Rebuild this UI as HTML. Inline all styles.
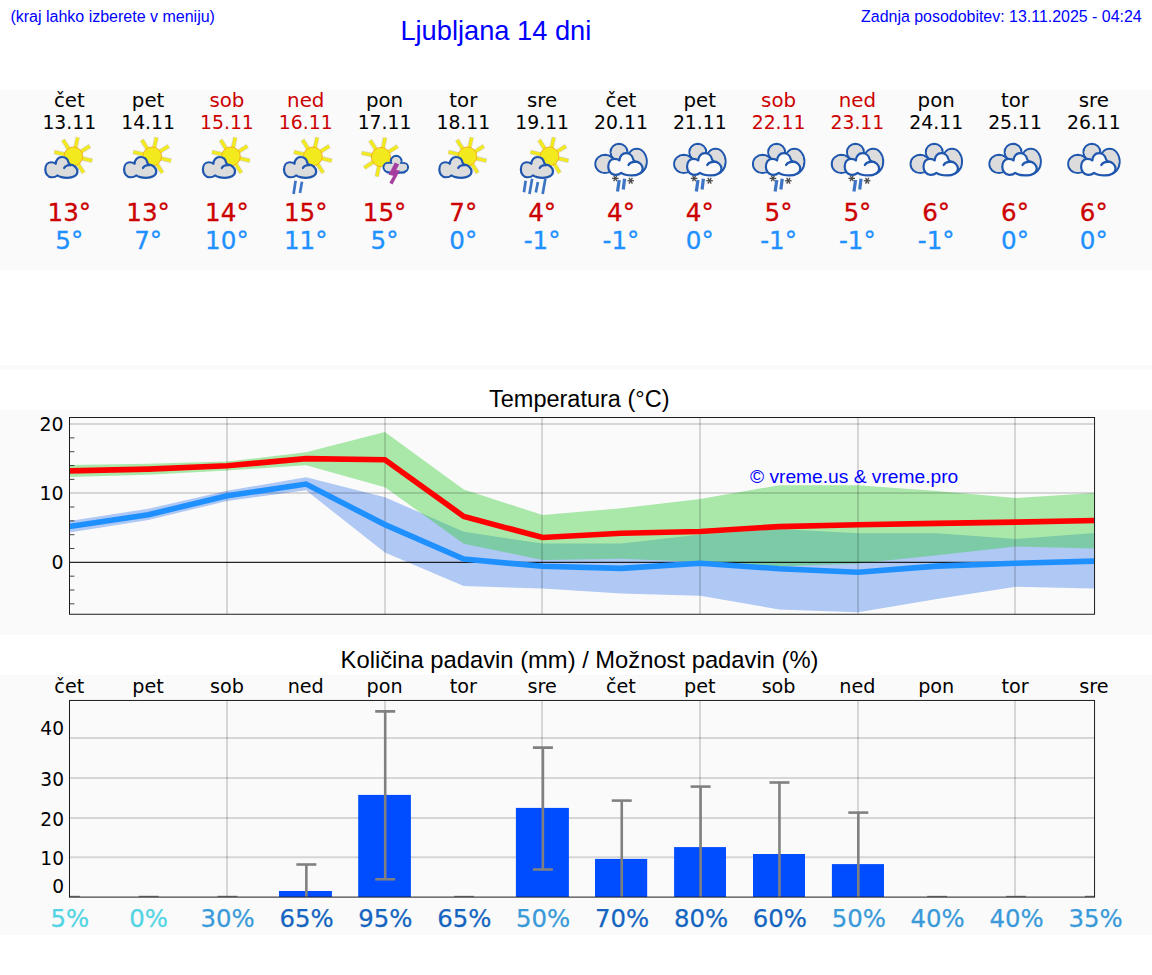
<!DOCTYPE html>
<html lang="sl"><head><meta charset="utf-8"><title>Ljubljana 14 dni</title>
<style>
html,body{margin:0;padding:0;background:#fff;}
body{width:1152px;height:975px;overflow:hidden;font-family:"Liberation Sans",sans-serif;}
svg{display:block;}
svg text{font-family:"Liberation Sans",sans-serif;}
svg text.dv{font-family:"DejaVu Sans","Liberation Sans",sans-serif;}
</style></head><body>
<svg width="1152" height="975" viewBox="0 0 1152 975">
<rect x="0" y="90" width="1152" height="180" fill="#fafafa"/>
<rect x="0" y="365" width="1152" height="5" fill="#fafafa"/>
<rect x="0" y="410" width="1152" height="225" fill="#fafafa"/>
<rect x="0" y="675" width="1152" height="260" fill="#fafafa"/>
<text x="10.4" y="21.6" font-size="16" text-anchor="start" fill="#0000ff">(kraj lahko izberete v meniju)</text>
<text x="1141.7" y="21.6" font-size="15.95" text-anchor="end" fill="#0000ff">Zadnja posodobitev: 13.11.2025 - 04:24</text>
<text x="400.4" y="39.8" font-size="27.25" text-anchor="start" fill="#0000ff">Ljubljana 14 dni</text>
<text class="dv" x="69.3" y="106.8" font-size="19.8" text-anchor="middle" fill="#000">čet</text>
<text class="dv" x="69.3" y="128.9" font-size="18.8" text-anchor="middle" fill="#000">13.11</text>
<text class="dv" x="69.3" y="221.3" font-size="24.6" text-anchor="middle" fill="#cc0000" stroke="#cc0000" stroke-width="0.3">13°</text>
<text class="dv" x="69.3" y="249" font-size="24.6" text-anchor="middle" fill="#1e90ff" stroke="#1e90ff" stroke-width="0.3">5°</text>
<text class="dv" x="148.11" y="106.8" font-size="19.8" text-anchor="middle" fill="#000">pet</text>
<text class="dv" x="148.11" y="128.9" font-size="18.8" text-anchor="middle" fill="#000">14.11</text>
<text class="dv" x="148.11" y="221.3" font-size="24.6" text-anchor="middle" fill="#cc0000" stroke="#cc0000" stroke-width="0.3">13°</text>
<text class="dv" x="148.11" y="249" font-size="24.6" text-anchor="middle" fill="#1e90ff" stroke="#1e90ff" stroke-width="0.3">7°</text>
<text class="dv" x="226.92" y="106.8" font-size="19.8" text-anchor="middle" fill="#cc0000">sob</text>
<text class="dv" x="226.92" y="128.9" font-size="18.8" text-anchor="middle" fill="#cc0000">15.11</text>
<text class="dv" x="226.92" y="221.3" font-size="24.6" text-anchor="middle" fill="#cc0000" stroke="#cc0000" stroke-width="0.3">14°</text>
<text class="dv" x="226.92" y="249" font-size="24.6" text-anchor="middle" fill="#1e90ff" stroke="#1e90ff" stroke-width="0.3">10°</text>
<text class="dv" x="305.73" y="106.8" font-size="19.8" text-anchor="middle" fill="#cc0000">ned</text>
<text class="dv" x="305.73" y="128.9" font-size="18.8" text-anchor="middle" fill="#cc0000">16.11</text>
<text class="dv" x="305.73" y="221.3" font-size="24.6" text-anchor="middle" fill="#cc0000" stroke="#cc0000" stroke-width="0.3">15°</text>
<text class="dv" x="305.73" y="249" font-size="24.6" text-anchor="middle" fill="#1e90ff" stroke="#1e90ff" stroke-width="0.3">11°</text>
<text class="dv" x="384.54" y="106.8" font-size="19.8" text-anchor="middle" fill="#000">pon</text>
<text class="dv" x="384.54" y="128.9" font-size="18.8" text-anchor="middle" fill="#000">17.11</text>
<text class="dv" x="384.54" y="221.3" font-size="24.6" text-anchor="middle" fill="#cc0000" stroke="#cc0000" stroke-width="0.3">15°</text>
<text class="dv" x="384.54" y="249" font-size="24.6" text-anchor="middle" fill="#1e90ff" stroke="#1e90ff" stroke-width="0.3">5°</text>
<text class="dv" x="463.35" y="106.8" font-size="19.8" text-anchor="middle" fill="#000">tor</text>
<text class="dv" x="463.35" y="128.9" font-size="18.8" text-anchor="middle" fill="#000">18.11</text>
<text class="dv" x="463.35" y="221.3" font-size="24.6" text-anchor="middle" fill="#cc0000" stroke="#cc0000" stroke-width="0.3">7°</text>
<text class="dv" x="463.35" y="249" font-size="24.6" text-anchor="middle" fill="#1e90ff" stroke="#1e90ff" stroke-width="0.3">0°</text>
<text class="dv" x="542.16" y="106.8" font-size="19.8" text-anchor="middle" fill="#000">sre</text>
<text class="dv" x="542.16" y="128.9" font-size="18.8" text-anchor="middle" fill="#000">19.11</text>
<text class="dv" x="542.16" y="221.3" font-size="24.6" text-anchor="middle" fill="#cc0000" stroke="#cc0000" stroke-width="0.3">4°</text>
<text class="dv" x="542.16" y="249" font-size="24.6" text-anchor="middle" fill="#1e90ff" stroke="#1e90ff" stroke-width="0.3">-1°</text>
<text class="dv" x="620.97" y="106.8" font-size="19.8" text-anchor="middle" fill="#000">čet</text>
<text class="dv" x="620.97" y="128.9" font-size="18.8" text-anchor="middle" fill="#000">20.11</text>
<text class="dv" x="620.97" y="221.3" font-size="24.6" text-anchor="middle" fill="#cc0000" stroke="#cc0000" stroke-width="0.3">4°</text>
<text class="dv" x="620.97" y="249" font-size="24.6" text-anchor="middle" fill="#1e90ff" stroke="#1e90ff" stroke-width="0.3">-1°</text>
<text class="dv" x="699.78" y="106.8" font-size="19.8" text-anchor="middle" fill="#000">pet</text>
<text class="dv" x="699.78" y="128.9" font-size="18.8" text-anchor="middle" fill="#000">21.11</text>
<text class="dv" x="699.78" y="221.3" font-size="24.6" text-anchor="middle" fill="#cc0000" stroke="#cc0000" stroke-width="0.3">4°</text>
<text class="dv" x="699.78" y="249" font-size="24.6" text-anchor="middle" fill="#1e90ff" stroke="#1e90ff" stroke-width="0.3">0°</text>
<text class="dv" x="778.59" y="106.8" font-size="19.8" text-anchor="middle" fill="#cc0000">sob</text>
<text class="dv" x="778.59" y="128.9" font-size="18.8" text-anchor="middle" fill="#cc0000">22.11</text>
<text class="dv" x="778.59" y="221.3" font-size="24.6" text-anchor="middle" fill="#cc0000" stroke="#cc0000" stroke-width="0.3">5°</text>
<text class="dv" x="778.59" y="249" font-size="24.6" text-anchor="middle" fill="#1e90ff" stroke="#1e90ff" stroke-width="0.3">-1°</text>
<text class="dv" x="857.4" y="106.8" font-size="19.8" text-anchor="middle" fill="#cc0000">ned</text>
<text class="dv" x="857.4" y="128.9" font-size="18.8" text-anchor="middle" fill="#cc0000">23.11</text>
<text class="dv" x="857.4" y="221.3" font-size="24.6" text-anchor="middle" fill="#cc0000" stroke="#cc0000" stroke-width="0.3">5°</text>
<text class="dv" x="857.4" y="249" font-size="24.6" text-anchor="middle" fill="#1e90ff" stroke="#1e90ff" stroke-width="0.3">-1°</text>
<text class="dv" x="936.21" y="106.8" font-size="19.8" text-anchor="middle" fill="#000">pon</text>
<text class="dv" x="936.21" y="128.9" font-size="18.8" text-anchor="middle" fill="#000">24.11</text>
<text class="dv" x="936.21" y="221.3" font-size="24.6" text-anchor="middle" fill="#cc0000" stroke="#cc0000" stroke-width="0.3">6°</text>
<text class="dv" x="936.21" y="249" font-size="24.6" text-anchor="middle" fill="#1e90ff" stroke="#1e90ff" stroke-width="0.3">-1°</text>
<text class="dv" x="1015.02" y="106.8" font-size="19.8" text-anchor="middle" fill="#000">tor</text>
<text class="dv" x="1015.02" y="128.9" font-size="18.8" text-anchor="middle" fill="#000">25.11</text>
<text class="dv" x="1015.02" y="221.3" font-size="24.6" text-anchor="middle" fill="#cc0000" stroke="#cc0000" stroke-width="0.3">6°</text>
<text class="dv" x="1015.02" y="249" font-size="24.6" text-anchor="middle" fill="#1e90ff" stroke="#1e90ff" stroke-width="0.3">0°</text>
<text class="dv" x="1093.83" y="106.8" font-size="19.8" text-anchor="middle" fill="#000">sre</text>
<text class="dv" x="1093.83" y="128.9" font-size="18.8" text-anchor="middle" fill="#000">26.11</text>
<text class="dv" x="1093.83" y="221.3" font-size="24.6" text-anchor="middle" fill="#cc0000" stroke="#cc0000" stroke-width="0.3">6°</text>
<text class="dv" x="1093.83" y="249" font-size="24.6" text-anchor="middle" fill="#1e90ff" stroke="#1e90ff" stroke-width="0.3">0°</text>
<g><line x1="75.24" y1="148.12" x2="77.74" y2="137.3" stroke="#b9b48a" stroke-opacity="0.55" stroke-width="4.5"/><line x1="75.24" y1="148.12" x2="77.67" y2="137.59" stroke="#f2ea1c" stroke-width="3.2"/><line x1="80.54" y1="151.9" x2="89.95" y2="146.01" stroke="#b9b48a" stroke-opacity="0.55" stroke-width="4.5"/><line x1="80.54" y1="151.9" x2="89.7" y2="146.17" stroke="#f2ea1c" stroke-width="3.2"/><line x1="81.61" y1="158.31" x2="92.43" y2="160.81" stroke="#b9b48a" stroke-opacity="0.55" stroke-width="4.5"/><line x1="81.61" y1="158.31" x2="92.14" y2="160.74" stroke="#f2ea1c" stroke-width="3.2"/><line x1="77.83" y1="163.61" x2="83.72" y2="173.02" stroke="#b9b48a" stroke-opacity="0.55" stroke-width="4.5"/><line x1="77.83" y1="163.61" x2="83.56" y2="172.77" stroke="#f2ea1c" stroke-width="3.2"/><line x1="65.05" y1="154.49" x2="54.23" y2="151.99" stroke="#b9b48a" stroke-opacity="0.55" stroke-width="4.5"/><line x1="65.05" y1="154.49" x2="54.52" y2="152.06" stroke="#f2ea1c" stroke-width="3.2"/><line x1="68.83" y1="149.19" x2="62.94" y2="139.78" stroke="#b9b48a" stroke-opacity="0.55" stroke-width="4.5"/><line x1="68.83" y1="149.19" x2="63.1" y2="140.03" stroke="#f2ea1c" stroke-width="3.2"/><circle cx="73.33" cy="156.4" r="9.4" fill="#f2ea1c" stroke="#f5a81e" stroke-width="0.9"/><path d="M55.79,163.74C55.79,159.78 58.49,157.02 61.82,157.02C65.15,157.02 67.85,159.26 68.48,162.42C68.71,163.57 69.57,164.26 70.43,164.6C74.17,165 77.44,167.87 77.44,171.61C77.44,175.63 72.73,177.81 67.28,177.81C62.97,177.81 59.52,177.06 57.34,175.46C55.79,176.89 53.78,177.35 51.59,177.24C47.75,177.06 45.28,173.62 45.28,169.6C45.28,165.58 47.46,162.25 50.79,162.25C52.92,162.25 54.75,162.65 55.79,163.74Z" fill="#dcdcdc" stroke="#1f56ae" stroke-width="2.2" stroke-linejoin="round"/><path d="M64.12,168.05C65.26,165.86 68.14,164.83 71.01,165.18" fill="none" stroke="#1f56ae" stroke-width="2.2" stroke-linecap="round"/></g>
<g><line x1="154.05" y1="148.12" x2="156.55" y2="137.3" stroke="#b9b48a" stroke-opacity="0.55" stroke-width="4.5"/><line x1="154.05" y1="148.12" x2="156.48" y2="137.59" stroke="#f2ea1c" stroke-width="3.2"/><line x1="159.35" y1="151.9" x2="168.76" y2="146.01" stroke="#b9b48a" stroke-opacity="0.55" stroke-width="4.5"/><line x1="159.35" y1="151.9" x2="168.51" y2="146.17" stroke="#f2ea1c" stroke-width="3.2"/><line x1="160.42" y1="158.31" x2="171.24" y2="160.81" stroke="#b9b48a" stroke-opacity="0.55" stroke-width="4.5"/><line x1="160.42" y1="158.31" x2="170.95" y2="160.74" stroke="#f2ea1c" stroke-width="3.2"/><line x1="156.64" y1="163.61" x2="162.53" y2="173.02" stroke="#b9b48a" stroke-opacity="0.55" stroke-width="4.5"/><line x1="156.64" y1="163.61" x2="162.37" y2="172.77" stroke="#f2ea1c" stroke-width="3.2"/><line x1="143.86" y1="154.49" x2="133.04" y2="151.99" stroke="#b9b48a" stroke-opacity="0.55" stroke-width="4.5"/><line x1="143.86" y1="154.49" x2="133.33" y2="152.06" stroke="#f2ea1c" stroke-width="3.2"/><line x1="147.64" y1="149.19" x2="141.75" y2="139.78" stroke="#b9b48a" stroke-opacity="0.55" stroke-width="4.5"/><line x1="147.64" y1="149.19" x2="141.91" y2="140.03" stroke="#f2ea1c" stroke-width="3.2"/><circle cx="152.14" cy="156.4" r="9.4" fill="#f2ea1c" stroke="#f5a81e" stroke-width="0.9"/><path d="M134.6,163.74C134.6,159.78 137.3,157.02 140.63,157.02C143.96,157.02 146.66,159.26 147.29,162.42C147.52,163.57 148.38,164.26 149.24,164.6C152.98,165 156.25,167.87 156.25,171.61C156.25,175.63 151.54,177.81 146.09,177.81C141.78,177.81 138.33,177.06 136.15,175.46C134.6,176.89 132.59,177.35 130.4,177.24C126.56,177.06 124.09,173.62 124.09,169.6C124.09,165.58 126.27,162.25 129.6,162.25C131.73,162.25 133.56,162.65 134.6,163.74Z" fill="#dcdcdc" stroke="#1f56ae" stroke-width="2.2" stroke-linejoin="round"/><path d="M142.93,168.05C144.07,165.86 146.95,164.83 149.82,165.18" fill="none" stroke="#1f56ae" stroke-width="2.2" stroke-linecap="round"/></g>
<g><line x1="232.86" y1="148.12" x2="235.36" y2="137.3" stroke="#b9b48a" stroke-opacity="0.55" stroke-width="4.5"/><line x1="232.86" y1="148.12" x2="235.29" y2="137.59" stroke="#f2ea1c" stroke-width="3.2"/><line x1="238.16" y1="151.9" x2="247.57" y2="146.01" stroke="#b9b48a" stroke-opacity="0.55" stroke-width="4.5"/><line x1="238.16" y1="151.9" x2="247.32" y2="146.17" stroke="#f2ea1c" stroke-width="3.2"/><line x1="239.23" y1="158.31" x2="250.05" y2="160.81" stroke="#b9b48a" stroke-opacity="0.55" stroke-width="4.5"/><line x1="239.23" y1="158.31" x2="249.76" y2="160.74" stroke="#f2ea1c" stroke-width="3.2"/><line x1="235.45" y1="163.61" x2="241.34" y2="173.02" stroke="#b9b48a" stroke-opacity="0.55" stroke-width="4.5"/><line x1="235.45" y1="163.61" x2="241.18" y2="172.77" stroke="#f2ea1c" stroke-width="3.2"/><line x1="222.67" y1="154.49" x2="211.85" y2="151.99" stroke="#b9b48a" stroke-opacity="0.55" stroke-width="4.5"/><line x1="222.67" y1="154.49" x2="212.14" y2="152.06" stroke="#f2ea1c" stroke-width="3.2"/><line x1="226.45" y1="149.19" x2="220.56" y2="139.78" stroke="#b9b48a" stroke-opacity="0.55" stroke-width="4.5"/><line x1="226.45" y1="149.19" x2="220.72" y2="140.03" stroke="#f2ea1c" stroke-width="3.2"/><circle cx="230.95" cy="156.4" r="9.4" fill="#f2ea1c" stroke="#f5a81e" stroke-width="0.9"/><path d="M213.41,163.74C213.41,159.78 216.11,157.02 219.44,157.02C222.77,157.02 225.47,159.26 226.1,162.42C226.33,163.57 227.19,164.26 228.05,164.6C231.79,165 235.06,167.87 235.06,171.61C235.06,175.63 230.35,177.81 224.9,177.81C220.59,177.81 217.14,177.06 214.96,175.46C213.41,176.89 211.4,177.35 209.21,177.24C205.37,177.06 202.9,173.62 202.9,169.6C202.9,165.58 205.08,162.25 208.41,162.25C210.54,162.25 212.37,162.65 213.41,163.74Z" fill="#dcdcdc" stroke="#1f56ae" stroke-width="2.2" stroke-linejoin="round"/><path d="M221.74,168.05C222.88,165.86 225.76,164.83 228.63,165.18" fill="none" stroke="#1f56ae" stroke-width="2.2" stroke-linecap="round"/></g>
<g><line x1="295.58" y1="180.7" x2="293.58" y2="194" stroke="#3d74c4" stroke-width="2.7"/><line x1="301.98" y1="181.8" x2="299.98" y2="192.9" stroke="#3d74c4" stroke-width="2.7"/><line x1="314.77" y1="148.12" x2="317.27" y2="137.3" stroke="#b9b48a" stroke-opacity="0.55" stroke-width="4.5"/><line x1="314.77" y1="148.12" x2="317.2" y2="137.59" stroke="#f2ea1c" stroke-width="3.2"/><line x1="320.07" y1="151.9" x2="329.48" y2="146.01" stroke="#b9b48a" stroke-opacity="0.55" stroke-width="4.5"/><line x1="320.07" y1="151.9" x2="329.23" y2="146.17" stroke="#f2ea1c" stroke-width="3.2"/><line x1="321.14" y1="158.31" x2="331.96" y2="160.81" stroke="#b9b48a" stroke-opacity="0.55" stroke-width="4.5"/><line x1="321.14" y1="158.31" x2="331.67" y2="160.74" stroke="#f2ea1c" stroke-width="3.2"/><line x1="317.36" y1="163.61" x2="323.25" y2="173.02" stroke="#b9b48a" stroke-opacity="0.55" stroke-width="4.5"/><line x1="317.36" y1="163.61" x2="323.09" y2="172.77" stroke="#f2ea1c" stroke-width="3.2"/><line x1="304.58" y1="154.49" x2="293.76" y2="151.99" stroke="#b9b48a" stroke-opacity="0.55" stroke-width="4.5"/><line x1="304.58" y1="154.49" x2="294.05" y2="152.06" stroke="#f2ea1c" stroke-width="3.2"/><line x1="308.36" y1="149.19" x2="302.47" y2="139.78" stroke="#b9b48a" stroke-opacity="0.55" stroke-width="4.5"/><line x1="308.36" y1="149.19" x2="302.63" y2="140.03" stroke="#f2ea1c" stroke-width="3.2"/><circle cx="312.86" cy="156.4" r="9.4" fill="#f2ea1c" stroke="#f5a81e" stroke-width="0.9"/><path d="M294.52,163.74C294.52,159.78 297.22,157.02 300.55,157.02C303.88,157.02 306.58,159.26 307.21,162.42C307.44,163.57 308.3,164.26 309.16,164.6C312.9,165 316.17,167.87 316.17,171.61C316.17,175.63 311.46,177.81 306.01,177.81C301.7,177.81 298.25,177.06 296.07,175.46C294.52,176.89 292.51,177.35 290.32,177.24C286.48,177.06 284.01,173.62 284.01,169.6C284.01,165.58 286.19,162.25 289.52,162.25C291.65,162.25 293.48,162.65 294.52,163.74Z" fill="#dcdcdc" stroke="#1f56ae" stroke-width="2.2" stroke-linejoin="round"/><path d="M302.85,168.05C303.99,165.86 306.87,164.83 309.74,165.18" fill="none" stroke="#1f56ae" stroke-width="2.2" stroke-linecap="round"/></g>
<g><line x1="382.72" y1="148.74" x2="385.11" y2="137.49" stroke="#b9b48a" stroke-opacity="0.55" stroke-width="4.5"/><line x1="382.72" y1="148.74" x2="385.05" y2="137.78" stroke="#f2ea1c" stroke-width="3.2"/><line x1="388.08" y1="152.42" x2="397.72" y2="146.16" stroke="#b9b48a" stroke-opacity="0.55" stroke-width="4.5"/><line x1="388.08" y1="152.42" x2="397.47" y2="146.32" stroke="#f2ea1c" stroke-width="3.2"/><line x1="379.18" y1="165.36" x2="376.79" y2="176.61" stroke="#b9b48a" stroke-opacity="0.55" stroke-width="4.5"/><line x1="379.18" y1="165.36" x2="376.85" y2="176.32" stroke="#f2ea1c" stroke-width="3.2"/><line x1="373.82" y1="161.68" x2="364.18" y2="167.94" stroke="#b9b48a" stroke-opacity="0.55" stroke-width="4.5"/><line x1="373.82" y1="161.68" x2="364.43" y2="167.78" stroke="#f2ea1c" stroke-width="3.2"/><line x1="372.64" y1="155.28" x2="361.39" y2="152.89" stroke="#b9b48a" stroke-opacity="0.55" stroke-width="4.5"/><line x1="372.64" y1="155.28" x2="361.68" y2="152.95" stroke="#f2ea1c" stroke-width="3.2"/><line x1="376.32" y1="149.92" x2="370.06" y2="140.28" stroke="#b9b48a" stroke-opacity="0.55" stroke-width="4.5"/><line x1="376.32" y1="149.92" x2="370.22" y2="140.53" stroke="#f2ea1c" stroke-width="3.2"/><circle cx="380.95" cy="157.05" r="9.6" fill="#f2ea1c" stroke="#f5a81e" stroke-width="0.9"/><circle cx="388.06" cy="167.34" r="4.47" fill="#dcdcdc" stroke="#1f56ae" stroke-width="2.2"/><circle cx="396.19" cy="161.25" r="5.28" fill="#dcdcdc" stroke="#1f56ae" stroke-width="2.2"/><circle cx="403.63" cy="167.34" r="4.33" fill="#dcdcdc" stroke="#1f56ae" stroke-width="2.2"/><rect x="387.72" y="163.82" width="16.25" height="8.53" fill="#dcdcdc"/><path d="M387.39,172.42 Q395.85,173.22 404.31,172.42" fill="none" stroke="#1f56ae" stroke-width="2.2" stroke-linecap="round"/><circle cx="388.06" cy="167.34" r="3.47" fill="#dcdcdc"/><circle cx="396.19" cy="161.25" r="4.28" fill="#dcdcdc"/><circle cx="403.63" cy="167.34" r="3.33" fill="#dcdcdc"/><polygon points="394.83,162.6 399.23,164.5 396.19,170.05 399.91,170.46 392.46,184.47 389.42,182.64 393.28,175.87 388.6,174.79" fill="#a63ea0"/></g>
<g><line x1="469.29" y1="148.12" x2="471.79" y2="137.3" stroke="#b9b48a" stroke-opacity="0.55" stroke-width="4.5"/><line x1="469.29" y1="148.12" x2="471.72" y2="137.59" stroke="#f2ea1c" stroke-width="3.2"/><line x1="474.59" y1="151.9" x2="484" y2="146.01" stroke="#b9b48a" stroke-opacity="0.55" stroke-width="4.5"/><line x1="474.59" y1="151.9" x2="483.75" y2="146.17" stroke="#f2ea1c" stroke-width="3.2"/><line x1="475.66" y1="158.31" x2="486.48" y2="160.81" stroke="#b9b48a" stroke-opacity="0.55" stroke-width="4.5"/><line x1="475.66" y1="158.31" x2="486.19" y2="160.74" stroke="#f2ea1c" stroke-width="3.2"/><line x1="471.88" y1="163.61" x2="477.77" y2="173.02" stroke="#b9b48a" stroke-opacity="0.55" stroke-width="4.5"/><line x1="471.88" y1="163.61" x2="477.61" y2="172.77" stroke="#f2ea1c" stroke-width="3.2"/><line x1="459.1" y1="154.49" x2="448.28" y2="151.99" stroke="#b9b48a" stroke-opacity="0.55" stroke-width="4.5"/><line x1="459.1" y1="154.49" x2="448.57" y2="152.06" stroke="#f2ea1c" stroke-width="3.2"/><line x1="462.88" y1="149.19" x2="456.99" y2="139.78" stroke="#b9b48a" stroke-opacity="0.55" stroke-width="4.5"/><line x1="462.88" y1="149.19" x2="457.15" y2="140.03" stroke="#f2ea1c" stroke-width="3.2"/><circle cx="467.38" cy="156.4" r="9.4" fill="#f2ea1c" stroke="#f5a81e" stroke-width="0.9"/><path d="M449.84,163.74C449.84,159.78 452.54,157.02 455.87,157.02C459.2,157.02 461.9,159.26 462.53,162.42C462.76,163.57 463.62,164.26 464.48,164.6C468.22,165 471.49,167.87 471.49,171.61C471.49,175.63 466.78,177.81 461.33,177.81C457.02,177.81 453.57,177.06 451.39,175.46C449.84,176.89 447.83,177.35 445.64,177.24C441.8,177.06 439.33,173.62 439.33,169.6C439.33,165.58 441.51,162.25 444.84,162.25C446.97,162.25 448.8,162.65 449.84,163.74Z" fill="#dcdcdc" stroke="#1f56ae" stroke-width="2.2" stroke-linejoin="round"/><path d="M458.17,168.05C459.31,165.86 462.19,164.83 465.06,165.18" fill="none" stroke="#1f56ae" stroke-width="2.2" stroke-linecap="round"/></g>
<g><line x1="525.66" y1="180.7" x2="523.96" y2="192.3" stroke="#3d74c4" stroke-width="2.7"/><line x1="532.16" y1="178.7" x2="529.46" y2="194" stroke="#3d74c4" stroke-width="2.7"/><line x1="537.86" y1="182.1" x2="535.86" y2="192.6" stroke="#3d74c4" stroke-width="2.7"/><line x1="545.36" y1="178.7" x2="542.66" y2="194" stroke="#3d74c4" stroke-width="2.7"/><line x1="551.4" y1="148.12" x2="553.9" y2="137.3" stroke="#b9b48a" stroke-opacity="0.55" stroke-width="4.5"/><line x1="551.4" y1="148.12" x2="553.83" y2="137.59" stroke="#f2ea1c" stroke-width="3.2"/><line x1="556.7" y1="151.9" x2="566.11" y2="146.01" stroke="#b9b48a" stroke-opacity="0.55" stroke-width="4.5"/><line x1="556.7" y1="151.9" x2="565.86" y2="146.17" stroke="#f2ea1c" stroke-width="3.2"/><line x1="557.77" y1="158.31" x2="568.59" y2="160.81" stroke="#b9b48a" stroke-opacity="0.55" stroke-width="4.5"/><line x1="557.77" y1="158.31" x2="568.3" y2="160.74" stroke="#f2ea1c" stroke-width="3.2"/><line x1="553.99" y1="163.61" x2="559.88" y2="173.02" stroke="#b9b48a" stroke-opacity="0.55" stroke-width="4.5"/><line x1="553.99" y1="163.61" x2="559.72" y2="172.77" stroke="#f2ea1c" stroke-width="3.2"/><line x1="541.21" y1="154.49" x2="530.39" y2="151.99" stroke="#b9b48a" stroke-opacity="0.55" stroke-width="4.5"/><line x1="541.21" y1="154.49" x2="530.68" y2="152.06" stroke="#f2ea1c" stroke-width="3.2"/><line x1="544.99" y1="149.19" x2="539.1" y2="139.78" stroke="#b9b48a" stroke-opacity="0.55" stroke-width="4.5"/><line x1="544.99" y1="149.19" x2="539.26" y2="140.03" stroke="#f2ea1c" stroke-width="3.2"/><circle cx="549.49" cy="156.4" r="9.4" fill="#f2ea1c" stroke="#f5a81e" stroke-width="0.9"/><path d="M531.35,163.74C531.35,159.78 534.05,157.02 537.38,157.02C540.71,157.02 543.41,159.26 544.04,162.42C544.27,163.57 545.13,164.26 545.99,164.6C549.73,165 553,167.87 553,171.61C553,175.63 548.29,177.81 542.84,177.81C538.53,177.81 535.08,177.06 532.9,175.46C531.35,176.89 529.34,177.35 527.15,177.24C523.31,177.06 520.84,173.62 520.84,169.6C520.84,165.58 523.02,162.25 526.35,162.25C528.48,162.25 530.31,162.65 531.35,163.74Z" fill="#dcdcdc" stroke="#1f56ae" stroke-width="2.2" stroke-linejoin="round"/><path d="M539.68,168.05C540.82,165.86 543.7,164.83 546.57,165.18" fill="none" stroke="#1f56ae" stroke-width="2.2" stroke-linecap="round"/></g>
<g><ellipse cx="604.98" cy="163.96" rx="9.61" ry="9.07" fill="#dcdcdc" stroke="#1f56ae" stroke-width="2.1"/><ellipse cx="619" cy="152.18" rx="8.4" ry="8.26" fill="#dcdcdc" stroke="#1f56ae" stroke-width="2.1"/><ellipse cx="636.74" cy="161.45" rx="10.02" ry="12.59" fill="#dcdcdc" stroke="#1f56ae" stroke-width="2.1"/><ellipse cx="604.98" cy="163.96" rx="8.61" ry="8.07" fill="#dcdcdc"/><ellipse cx="619" cy="152.18" rx="7.4" ry="7.26" fill="#dcdcdc"/><ellipse cx="636.74" cy="161.45" rx="9.02" ry="11.59" fill="#dcdcdc"/><line x1="612" y1="178.4" x2="618.6" y2="178.4" stroke="#4a4a4a" stroke-width="1.3"/><line x1="613.65" y1="175.54" x2="616.95" y2="181.26" stroke="#4a4a4a" stroke-width="1.3"/><line x1="616.95" y1="175.54" x2="613.65" y2="181.26" stroke="#4a4a4a" stroke-width="1.3"/><line x1="627.42" y1="180.75" x2="634.02" y2="180.75" stroke="#4a4a4a" stroke-width="1.3"/><line x1="629.07" y1="177.89" x2="632.37" y2="183.61" stroke="#4a4a4a" stroke-width="1.3"/><line x1="632.37" y1="177.89" x2="629.07" y2="183.61" stroke="#4a4a4a" stroke-width="1.3"/><line x1="619.2" y1="180.07" x2="617.51" y2="191.58" stroke="#3d74c4" stroke-width="3.2"/><line x1="624.62" y1="178.72" x2="623.27" y2="189.55" stroke="#3d74c4" stroke-width="3.2"/><path d="M619.51,160.37C619.51,156.13 622.4,153.18 625.96,153.18C629.53,153.18 632.42,155.58 633.09,158.96C633.34,160.19 634.26,160.93 635.18,161.3C639.18,161.73 642.68,164.8 642.68,168.79C642.68,173.1 637.64,175.43 631.8,175.43C627.19,175.43 623.51,174.63 621.17,172.91C619.51,174.45 617.36,174.94 615.03,174.82C610.91,174.63 608.26,170.94 608.26,166.64C608.26,162.34 610.6,158.78 614.16,158.78C616.44,158.78 618.41,159.21 619.51,160.37Z" fill="#fafafa" stroke="#1f56ae" stroke-width="2.2" stroke-linejoin="round"/><path d="M628.42,164.98C629.65,162.65 632.73,161.54 635.8,161.91" fill="none" stroke="#1f56ae" stroke-width="2.2" stroke-linecap="round"/></g>
<g><ellipse cx="683.79" cy="163.96" rx="9.61" ry="9.07" fill="#dcdcdc" stroke="#1f56ae" stroke-width="2.1"/><ellipse cx="697.81" cy="152.18" rx="8.4" ry="8.26" fill="#dcdcdc" stroke="#1f56ae" stroke-width="2.1"/><ellipse cx="715.55" cy="161.45" rx="10.02" ry="12.59" fill="#dcdcdc" stroke="#1f56ae" stroke-width="2.1"/><ellipse cx="683.79" cy="163.96" rx="8.61" ry="8.07" fill="#dcdcdc"/><ellipse cx="697.81" cy="152.18" rx="7.4" ry="7.26" fill="#dcdcdc"/><ellipse cx="715.55" cy="161.45" rx="9.02" ry="11.59" fill="#dcdcdc"/><line x1="690.81" y1="178.4" x2="697.41" y2="178.4" stroke="#4a4a4a" stroke-width="1.3"/><line x1="692.46" y1="175.54" x2="695.76" y2="181.26" stroke="#4a4a4a" stroke-width="1.3"/><line x1="695.76" y1="175.54" x2="692.46" y2="181.26" stroke="#4a4a4a" stroke-width="1.3"/><line x1="706.23" y1="180.75" x2="712.83" y2="180.75" stroke="#4a4a4a" stroke-width="1.3"/><line x1="707.88" y1="177.89" x2="711.18" y2="183.61" stroke="#4a4a4a" stroke-width="1.3"/><line x1="711.18" y1="177.89" x2="707.88" y2="183.61" stroke="#4a4a4a" stroke-width="1.3"/><line x1="698.01" y1="180.07" x2="696.32" y2="191.58" stroke="#3d74c4" stroke-width="3.2"/><line x1="703.43" y1="178.72" x2="702.08" y2="189.55" stroke="#3d74c4" stroke-width="3.2"/><path d="M698.32,160.37C698.32,156.13 701.21,153.18 704.77,153.18C708.34,153.18 711.23,155.58 711.9,158.96C712.15,160.19 713.07,160.93 713.99,161.3C717.99,161.73 721.49,164.8 721.49,168.79C721.49,173.1 716.45,175.43 710.61,175.43C706,175.43 702.32,174.63 699.98,172.91C698.32,174.45 696.17,174.94 693.84,174.82C689.72,174.63 687.07,170.94 687.07,166.64C687.07,162.34 689.41,158.78 692.97,158.78C695.25,158.78 697.22,159.21 698.32,160.37Z" fill="#fafafa" stroke="#1f56ae" stroke-width="2.2" stroke-linejoin="round"/><path d="M707.23,164.98C708.46,162.65 711.54,161.54 714.61,161.91" fill="none" stroke="#1f56ae" stroke-width="2.2" stroke-linecap="round"/></g>
<g><ellipse cx="762.6" cy="163.96" rx="9.61" ry="9.07" fill="#dcdcdc" stroke="#1f56ae" stroke-width="2.1"/><ellipse cx="776.62" cy="152.18" rx="8.4" ry="8.26" fill="#dcdcdc" stroke="#1f56ae" stroke-width="2.1"/><ellipse cx="794.36" cy="161.45" rx="10.02" ry="12.59" fill="#dcdcdc" stroke="#1f56ae" stroke-width="2.1"/><ellipse cx="762.6" cy="163.96" rx="8.61" ry="8.07" fill="#dcdcdc"/><ellipse cx="776.62" cy="152.18" rx="7.4" ry="7.26" fill="#dcdcdc"/><ellipse cx="794.36" cy="161.45" rx="9.02" ry="11.59" fill="#dcdcdc"/><line x1="769.62" y1="178.4" x2="776.22" y2="178.4" stroke="#4a4a4a" stroke-width="1.3"/><line x1="771.27" y1="175.54" x2="774.57" y2="181.26" stroke="#4a4a4a" stroke-width="1.3"/><line x1="774.57" y1="175.54" x2="771.27" y2="181.26" stroke="#4a4a4a" stroke-width="1.3"/><line x1="785.04" y1="180.75" x2="791.64" y2="180.75" stroke="#4a4a4a" stroke-width="1.3"/><line x1="786.69" y1="177.89" x2="789.99" y2="183.61" stroke="#4a4a4a" stroke-width="1.3"/><line x1="789.99" y1="177.89" x2="786.69" y2="183.61" stroke="#4a4a4a" stroke-width="1.3"/><line x1="776.82" y1="180.07" x2="775.13" y2="191.58" stroke="#3d74c4" stroke-width="3.2"/><line x1="782.24" y1="178.72" x2="780.89" y2="189.55" stroke="#3d74c4" stroke-width="3.2"/><path d="M777.13,160.37C777.13,156.13 780.02,153.18 783.58,153.18C787.15,153.18 790.04,155.58 790.71,158.96C790.96,160.19 791.88,160.93 792.8,161.3C796.8,161.73 800.3,164.8 800.3,168.79C800.3,173.1 795.26,175.43 789.42,175.43C784.81,175.43 781.13,174.63 778.79,172.91C777.13,174.45 774.98,174.94 772.65,174.82C768.53,174.63 765.88,170.94 765.88,166.64C765.88,162.34 768.22,158.78 771.78,158.78C774.06,158.78 776.03,159.21 777.13,160.37Z" fill="#fafafa" stroke="#1f56ae" stroke-width="2.2" stroke-linejoin="round"/><path d="M786.04,164.98C787.27,162.65 790.35,161.54 793.42,161.91" fill="none" stroke="#1f56ae" stroke-width="2.2" stroke-linecap="round"/></g>
<g><ellipse cx="841.41" cy="163.96" rx="9.61" ry="9.07" fill="#dcdcdc" stroke="#1f56ae" stroke-width="2.1"/><ellipse cx="855.43" cy="152.18" rx="8.4" ry="8.26" fill="#dcdcdc" stroke="#1f56ae" stroke-width="2.1"/><ellipse cx="873.17" cy="161.45" rx="10.02" ry="12.59" fill="#dcdcdc" stroke="#1f56ae" stroke-width="2.1"/><ellipse cx="841.41" cy="163.96" rx="8.61" ry="8.07" fill="#dcdcdc"/><ellipse cx="855.43" cy="152.18" rx="7.4" ry="7.26" fill="#dcdcdc"/><ellipse cx="873.17" cy="161.45" rx="9.02" ry="11.59" fill="#dcdcdc"/><line x1="848.43" y1="178.4" x2="855.03" y2="178.4" stroke="#4a4a4a" stroke-width="1.3"/><line x1="850.08" y1="175.54" x2="853.38" y2="181.26" stroke="#4a4a4a" stroke-width="1.3"/><line x1="853.38" y1="175.54" x2="850.08" y2="181.26" stroke="#4a4a4a" stroke-width="1.3"/><line x1="863.85" y1="180.75" x2="870.45" y2="180.75" stroke="#4a4a4a" stroke-width="1.3"/><line x1="865.5" y1="177.89" x2="868.8" y2="183.61" stroke="#4a4a4a" stroke-width="1.3"/><line x1="868.8" y1="177.89" x2="865.5" y2="183.61" stroke="#4a4a4a" stroke-width="1.3"/><line x1="855.63" y1="180.07" x2="853.94" y2="191.58" stroke="#3d74c4" stroke-width="3.2"/><line x1="861.05" y1="178.72" x2="859.7" y2="189.55" stroke="#3d74c4" stroke-width="3.2"/><path d="M855.94,160.37C855.94,156.13 858.83,153.18 862.39,153.18C865.96,153.18 868.85,155.58 869.52,158.96C869.77,160.19 870.69,160.93 871.61,161.3C875.61,161.73 879.11,164.8 879.11,168.79C879.11,173.1 874.07,175.43 868.23,175.43C863.62,175.43 859.94,174.63 857.6,172.91C855.94,174.45 853.79,174.94 851.46,174.82C847.34,174.63 844.69,170.94 844.69,166.64C844.69,162.34 847.03,158.78 850.59,158.78C852.87,158.78 854.84,159.21 855.94,160.37Z" fill="#fafafa" stroke="#1f56ae" stroke-width="2.2" stroke-linejoin="round"/><path d="M864.85,164.98C866.08,162.65 869.16,161.54 872.23,161.91" fill="none" stroke="#1f56ae" stroke-width="2.2" stroke-linecap="round"/></g>
<g><ellipse cx="920.22" cy="163.96" rx="9.61" ry="9.07" fill="#dcdcdc" stroke="#1f56ae" stroke-width="2.1"/><ellipse cx="934.24" cy="152.18" rx="8.4" ry="8.26" fill="#dcdcdc" stroke="#1f56ae" stroke-width="2.1"/><ellipse cx="951.98" cy="161.45" rx="10.02" ry="12.59" fill="#dcdcdc" stroke="#1f56ae" stroke-width="2.1"/><ellipse cx="920.22" cy="163.96" rx="8.61" ry="8.07" fill="#dcdcdc"/><ellipse cx="934.24" cy="152.18" rx="7.4" ry="7.26" fill="#dcdcdc"/><ellipse cx="951.98" cy="161.45" rx="9.02" ry="11.59" fill="#dcdcdc"/><path d="M934.75,160.37C934.75,156.13 937.64,153.18 941.2,153.18C944.77,153.18 947.66,155.58 948.33,158.96C948.58,160.19 949.5,160.93 950.42,161.3C954.42,161.73 957.92,164.8 957.92,168.79C957.92,173.1 952.88,175.43 947.04,175.43C942.43,175.43 938.75,174.63 936.41,172.91C934.75,174.45 932.6,174.94 930.27,174.82C926.15,174.63 923.5,170.94 923.5,166.64C923.5,162.34 925.84,158.78 929.4,158.78C931.68,158.78 933.65,159.21 934.75,160.37Z" fill="#fafafa" stroke="#1f56ae" stroke-width="2.2" stroke-linejoin="round"/><path d="M943.66,164.98C944.89,162.65 947.97,161.54 951.04,161.91" fill="none" stroke="#1f56ae" stroke-width="2.2" stroke-linecap="round"/></g>
<g><ellipse cx="999.03" cy="163.96" rx="9.61" ry="9.07" fill="#dcdcdc" stroke="#1f56ae" stroke-width="2.1"/><ellipse cx="1013.05" cy="152.18" rx="8.4" ry="8.26" fill="#dcdcdc" stroke="#1f56ae" stroke-width="2.1"/><ellipse cx="1030.79" cy="161.45" rx="10.02" ry="12.59" fill="#dcdcdc" stroke="#1f56ae" stroke-width="2.1"/><ellipse cx="999.03" cy="163.96" rx="8.61" ry="8.07" fill="#dcdcdc"/><ellipse cx="1013.05" cy="152.18" rx="7.4" ry="7.26" fill="#dcdcdc"/><ellipse cx="1030.79" cy="161.45" rx="9.02" ry="11.59" fill="#dcdcdc"/><path d="M1013.56,160.37C1013.56,156.13 1016.45,153.18 1020.01,153.18C1023.58,153.18 1026.47,155.58 1027.14,158.96C1027.39,160.19 1028.31,160.93 1029.23,161.3C1033.23,161.73 1036.73,164.8 1036.73,168.79C1036.73,173.1 1031.69,175.43 1025.85,175.43C1021.24,175.43 1017.56,174.63 1015.22,172.91C1013.56,174.45 1011.41,174.94 1009.08,174.82C1004.96,174.63 1002.31,170.94 1002.31,166.64C1002.31,162.34 1004.65,158.78 1008.21,158.78C1010.49,158.78 1012.46,159.21 1013.56,160.37Z" fill="#fafafa" stroke="#1f56ae" stroke-width="2.2" stroke-linejoin="round"/><path d="M1022.47,164.98C1023.7,162.65 1026.78,161.54 1029.85,161.91" fill="none" stroke="#1f56ae" stroke-width="2.2" stroke-linecap="round"/></g>
<g><ellipse cx="1077.84" cy="163.96" rx="9.61" ry="9.07" fill="#dcdcdc" stroke="#1f56ae" stroke-width="2.1"/><ellipse cx="1091.86" cy="152.18" rx="8.4" ry="8.26" fill="#dcdcdc" stroke="#1f56ae" stroke-width="2.1"/><ellipse cx="1109.6" cy="161.45" rx="10.02" ry="12.59" fill="#dcdcdc" stroke="#1f56ae" stroke-width="2.1"/><ellipse cx="1077.84" cy="163.96" rx="8.61" ry="8.07" fill="#dcdcdc"/><ellipse cx="1091.86" cy="152.18" rx="7.4" ry="7.26" fill="#dcdcdc"/><ellipse cx="1109.6" cy="161.45" rx="9.02" ry="11.59" fill="#dcdcdc"/><path d="M1092.37,160.37C1092.37,156.13 1095.26,153.18 1098.82,153.18C1102.39,153.18 1105.28,155.58 1105.95,158.96C1106.2,160.19 1107.12,160.93 1108.04,161.3C1112.04,161.73 1115.54,164.8 1115.54,168.79C1115.54,173.1 1110.5,175.43 1104.66,175.43C1100.05,175.43 1096.37,174.63 1094.03,172.91C1092.37,174.45 1090.22,174.94 1087.89,174.82C1083.77,174.63 1081.12,170.94 1081.12,166.64C1081.12,162.34 1083.46,158.78 1087.02,158.78C1089.3,158.78 1091.27,159.21 1092.37,160.37Z" fill="#fafafa" stroke="#1f56ae" stroke-width="2.2" stroke-linejoin="round"/><path d="M1101.28,164.98C1102.51,162.65 1105.59,161.54 1108.66,161.91" fill="none" stroke="#1f56ae" stroke-width="2.2" stroke-linecap="round"/></g>
<text x="489" y="407.4" font-size="23.5" text-anchor="start" fill="#000">Temperatura (°C)</text>
<clipPath id="ct"><rect x="69.5" y="417.5" width="1025.05" height="196.75"/></clipPath>
<g clip-path="url(#ct)">
<polygon points="69.5,520.9 148.35,508.75 227.2,490.8 306.05,477.3 384.9,497.2 463.75,531.7 542.6,543.6 621.45,543.4 700.3,534.4 779.15,529 858,533.3 936.85,533.3 1015.7,539 1094.55,533.1 1094.55,588.5 1015.7,586.8 936.85,598.9 858,612.2 779.15,609.5 700.3,595.8 621.45,593.4 542.6,588.6 463.75,586.1 384.9,552.5 306.05,490.3 227.2,500.9 148.35,520 69.5,532.5" fill="#6495ed" fill-opacity="0.5"/>
<polygon points="69.5,465 148.35,463.75 227.2,461.6 306.05,452.3 384.9,432 463.75,489.4 542.6,515 621.45,508.3 700.3,498.9 779.15,485.2 858,485.2 936.85,491.1 1015.7,498.1 1094.55,493.1 1094.55,548.5 1015.7,546.6 936.85,555.2 858,563.4 779.15,566.6 700.3,562 621.45,558.75 542.6,560 463.75,543.75 384.9,487.2 306.05,465.3 227.2,470.5 148.35,474.7 69.5,476.9" fill="#32cd32" fill-opacity="0.4"/>
<line x1="69.5" x2="1094.55" y1="493" y2="493" stroke="#000" stroke-opacity="0.14" stroke-width="2"/>
<line x1="69.5" x2="1094.55" y1="424" y2="424" stroke="#000" stroke-opacity="0.14" stroke-width="2"/>
<line x1="227" x2="227" y1="417.5" y2="614.25" stroke="#000" stroke-opacity="0.14" stroke-width="2"/>
<line x1="385" x2="385" y1="417.5" y2="614.25" stroke="#000" stroke-opacity="0.14" stroke-width="2"/>
<line x1="542" x2="542" y1="417.5" y2="614.25" stroke="#000" stroke-opacity="0.14" stroke-width="2"/>
<line x1="700" x2="700" y1="417.5" y2="614.25" stroke="#000" stroke-opacity="0.14" stroke-width="2"/>
<line x1="858" x2="858" y1="417.5" y2="614.25" stroke="#000" stroke-opacity="0.14" stroke-width="2"/>
<line x1="1015" x2="1015" y1="417.5" y2="614.25" stroke="#000" stroke-opacity="0.14" stroke-width="2"/>
<line x1="69.5" x2="1094.55" y1="562.35" y2="562.35" stroke="#000" stroke-opacity="0.85" stroke-width="1.1"/>
<polyline points="69.5,526.4 148.35,514.7 227.2,495.8 306.05,484.1 384.9,524.6 463.75,559.1 542.6,566.3 621.45,568.4 700.3,563.3 779.15,568.75 858,572.3 936.85,566.1 1015.7,563.3 1094.55,561.1" fill="none" stroke="#1e90ff" stroke-width="5.6" stroke-linejoin="miter"/>
<polyline points="69.5,470.9 148.35,469.1 227.2,465.8 306.05,458.6 384.9,459.7 463.75,516.4 542.6,537.5 621.45,533.3 700.3,531.5 779.15,526.6 858,524.7 936.85,523.4 1015.7,522.1 1094.55,520.5" fill="none" stroke="#ff0000" stroke-width="5.6" stroke-linejoin="miter"/>
</g>
<line x1="69.5" x2="74.4" y1="603.84" y2="603.84" stroke="#222" stroke-width="0.85"/>
<line x1="69.5" x2="74.4" y1="590.01" y2="590.01" stroke="#222" stroke-width="0.85"/>
<line x1="69.5" x2="74.4" y1="576.18" y2="576.18" stroke="#222" stroke-width="0.85"/>
<line x1="69.5" x2="74.4" y1="548.52" y2="548.52" stroke="#222" stroke-width="0.85"/>
<line x1="69.5" x2="74.4" y1="534.69" y2="534.69" stroke="#222" stroke-width="0.85"/>
<line x1="69.5" x2="74.4" y1="520.86" y2="520.86" stroke="#222" stroke-width="0.85"/>
<line x1="69.5" x2="74.4" y1="507.03" y2="507.03" stroke="#222" stroke-width="0.85"/>
<line x1="69.5" x2="74.4" y1="479.37" y2="479.37" stroke="#222" stroke-width="0.85"/>
<line x1="69.5" x2="74.4" y1="465.54" y2="465.54" stroke="#222" stroke-width="0.85"/>
<line x1="69.5" x2="74.4" y1="451.71" y2="451.71" stroke="#222" stroke-width="0.85"/>
<line x1="69.5" x2="74.4" y1="437.88" y2="437.88" stroke="#222" stroke-width="0.85"/>
<rect x="69.5" y="417.5" width="1025.05" height="196.75" fill="none" stroke="#1c1c1c" stroke-width="1"/>
<text class="dv" x="63.6" y="430.8" font-size="18.9" text-anchor="end" fill="#000">20</text>
<text class="dv" x="63.6" y="499.9" font-size="18.9" text-anchor="end" fill="#000">10</text>
<text class="dv" x="63.6" y="569.2" font-size="18.9" text-anchor="end" fill="#000">0</text>
<text x="750" y="483.2" font-size="19.2" text-anchor="start" fill="#0000ff">© vreme.us &amp; vreme.pro</text>
<text x="340.6" y="667.8" font-size="23.75" text-anchor="start" fill="#000">Količina padavin (mm) / Možnost padavin (%)</text>
<text class="dv" x="69.3" y="693" font-size="19.2" text-anchor="middle" fill="#000">čet</text>
<text class="dv" x="148.11" y="693" font-size="19.2" text-anchor="middle" fill="#000">pet</text>
<text class="dv" x="226.92" y="693" font-size="19.2" text-anchor="middle" fill="#000">sob</text>
<text class="dv" x="305.73" y="693" font-size="19.2" text-anchor="middle" fill="#000">ned</text>
<text class="dv" x="384.54" y="693" font-size="19.2" text-anchor="middle" fill="#000">pon</text>
<text class="dv" x="463.35" y="693" font-size="19.2" text-anchor="middle" fill="#000">tor</text>
<text class="dv" x="542.16" y="693" font-size="19.2" text-anchor="middle" fill="#000">sre</text>
<text class="dv" x="620.97" y="693" font-size="19.2" text-anchor="middle" fill="#000">čet</text>
<text class="dv" x="699.78" y="693" font-size="19.2" text-anchor="middle" fill="#000">pet</text>
<text class="dv" x="778.59" y="693" font-size="19.2" text-anchor="middle" fill="#000">sob</text>
<text class="dv" x="857.4" y="693" font-size="19.2" text-anchor="middle" fill="#000">ned</text>
<text class="dv" x="936.21" y="693" font-size="19.2" text-anchor="middle" fill="#000">pon</text>
<text class="dv" x="1015.02" y="693" font-size="19.2" text-anchor="middle" fill="#000">tor</text>
<text class="dv" x="1093.83" y="693" font-size="19.2" text-anchor="middle" fill="#000">sre</text>
<clipPath id="cp"><rect x="69.5" y="700.45" width="1025.05" height="196.64999999999998"/></clipPath>
<g clip-path="url(#cp)">
<line x1="69.5" x2="1094.55" y1="857.2" y2="857.2" stroke="#000" stroke-opacity="0.14" stroke-width="2"/>
<line x1="69.5" x2="1094.55" y1="818" y2="818" stroke="#000" stroke-opacity="0.14" stroke-width="2"/>
<line x1="69.5" x2="1094.55" y1="778" y2="778" stroke="#000" stroke-opacity="0.14" stroke-width="2"/>
<line x1="69.5" x2="1094.55" y1="738" y2="738" stroke="#000" stroke-opacity="0.14" stroke-width="2"/>
<line x1="227" x2="227" y1="700.45" y2="897.1" stroke="#000" stroke-opacity="0.14" stroke-width="2"/>
<line x1="385" x2="385" y1="700.45" y2="897.1" stroke="#000" stroke-opacity="0.14" stroke-width="2"/>
<line x1="542" x2="542" y1="700.45" y2="897.1" stroke="#000" stroke-opacity="0.14" stroke-width="2"/>
<line x1="700" x2="700" y1="700.45" y2="897.1" stroke="#000" stroke-opacity="0.14" stroke-width="2"/>
<line x1="858" x2="858" y1="700.45" y2="897.1" stroke="#000" stroke-opacity="0.14" stroke-width="2"/>
<line x1="1015" x2="1015" y1="700.45" y2="897.1" stroke="#000" stroke-opacity="0.14" stroke-width="2"/>
<rect x="279" y="891" width="52.9" height="7.1" fill="#004cff"/>
<rect x="358.2" y="794.9" width="52.7" height="103.2" fill="#004cff"/>
<rect x="515.9" y="807.9" width="53" height="90.2" fill="#004cff"/>
<rect x="595" y="858.9" width="52.2" height="39.2" fill="#004cff"/>
<rect x="674.1" y="847.1" width="51.9" height="51" fill="#004cff"/>
<rect x="753" y="854" width="52" height="44.1" fill="#004cff"/>
<rect x="831.9" y="864.1" width="52.1" height="34" fill="#004cff"/>
<line x1="59.8" x2="79.8" y1="897.1" y2="897.1" stroke="#808080" stroke-width="2.6"/>
<line x1="138.65" x2="158.65" y1="897.1" y2="897.1" stroke="#808080" stroke-width="2.6"/>
<line x1="217.5" x2="237.5" y1="897.1" y2="897.1" stroke="#808080" stroke-width="2.6"/>
<line x1="306.35" x2="306.35" y1="864.5" y2="900.1" stroke="#808080" stroke-width="2.6"/>
<line x1="296.35" x2="316.35" y1="864.5" y2="864.5" stroke="#808080" stroke-width="2.6"/>
<line x1="385.2" x2="385.2" y1="711.4" y2="879.3" stroke="#808080" stroke-width="2.6"/>
<line x1="375.2" x2="395.2" y1="711.4" y2="711.4" stroke="#808080" stroke-width="2.6"/>
<line x1="375.2" x2="395.2" y1="879.3" y2="879.3" stroke="#808080" stroke-width="2.6"/>
<line x1="454.05" x2="474.05" y1="897.1" y2="897.1" stroke="#808080" stroke-width="2.6"/>
<line x1="542.9" x2="542.9" y1="747.6" y2="869.5" stroke="#808080" stroke-width="2.6"/>
<line x1="532.9" x2="552.9" y1="747.6" y2="747.6" stroke="#808080" stroke-width="2.6"/>
<line x1="532.9" x2="552.9" y1="869.5" y2="869.5" stroke="#808080" stroke-width="2.6"/>
<line x1="621.75" x2="621.75" y1="800.6" y2="900.1" stroke="#808080" stroke-width="2.6"/>
<line x1="611.75" x2="631.75" y1="800.6" y2="800.6" stroke="#808080" stroke-width="2.6"/>
<line x1="700.6" x2="700.6" y1="786.6" y2="900.1" stroke="#808080" stroke-width="2.6"/>
<line x1="690.6" x2="710.6" y1="786.6" y2="786.6" stroke="#808080" stroke-width="2.6"/>
<line x1="779.45" x2="779.45" y1="782.5" y2="900.1" stroke="#808080" stroke-width="2.6"/>
<line x1="769.45" x2="789.45" y1="782.5" y2="782.5" stroke="#808080" stroke-width="2.6"/>
<line x1="858.3" x2="858.3" y1="812.6" y2="900.1" stroke="#808080" stroke-width="2.6"/>
<line x1="848.3" x2="868.3" y1="812.6" y2="812.6" stroke="#808080" stroke-width="2.6"/>
<line x1="927.15" x2="947.15" y1="897.1" y2="897.1" stroke="#808080" stroke-width="2.6"/>
<line x1="1006" x2="1026" y1="897.1" y2="897.1" stroke="#808080" stroke-width="2.6"/>
<line x1="1084.85" x2="1104.85" y1="897.1" y2="897.1" stroke="#808080" stroke-width="2.6"/>
</g>
<rect x="69.5" y="700.45" width="1025.05" height="196.64999999999998" fill="none" stroke="#1c1c1c" stroke-width="1"/>
<text class="dv" x="64" y="734.9" font-size="18.6" text-anchor="end" fill="#000">40</text>
<text class="dv" x="64" y="786.3" font-size="18.6" text-anchor="end" fill="#000">30</text>
<text class="dv" x="64" y="825.5" font-size="18.6" text-anchor="end" fill="#000">20</text>
<text class="dv" x="64" y="864.8" font-size="18.6" text-anchor="end" fill="#000">10</text>
<text class="dv" x="64" y="892.9" font-size="18.6" text-anchor="end" fill="#000">0</text>
<text class="dv" x="69.8" y="927" font-size="24.4" text-anchor="middle" fill="#52d4e4" stroke="#52d4e4" stroke-width="0.25">5%</text>
<text class="dv" x="148.7" y="927" font-size="24.4" text-anchor="middle" fill="#52d4e4" stroke="#52d4e4" stroke-width="0.25">0%</text>
<text class="dv" x="227.6" y="927" font-size="24.4" text-anchor="middle" fill="#3a9ad9" stroke="#3a9ad9" stroke-width="0.25">30%</text>
<text class="dv" x="306.5" y="927" font-size="24.4" text-anchor="middle" fill="#1565c0" stroke="#1565c0" stroke-width="0.25">65%</text>
<text class="dv" x="385.4" y="927" font-size="24.4" text-anchor="middle" fill="#1565c0" stroke="#1565c0" stroke-width="0.25">95%</text>
<text class="dv" x="464.3" y="927" font-size="24.4" text-anchor="middle" fill="#1565c0" stroke="#1565c0" stroke-width="0.25">65%</text>
<text class="dv" x="543.2" y="927" font-size="24.4" text-anchor="middle" fill="#3a9ad9" stroke="#3a9ad9" stroke-width="0.25">50%</text>
<text class="dv" x="622.1" y="927" font-size="24.4" text-anchor="middle" fill="#1565c0" stroke="#1565c0" stroke-width="0.25">70%</text>
<text class="dv" x="701" y="927" font-size="24.4" text-anchor="middle" fill="#1565c0" stroke="#1565c0" stroke-width="0.25">80%</text>
<text class="dv" x="779.9" y="927" font-size="24.4" text-anchor="middle" fill="#1565c0" stroke="#1565c0" stroke-width="0.25">60%</text>
<text class="dv" x="858.8" y="927" font-size="24.4" text-anchor="middle" fill="#3a9ad9" stroke="#3a9ad9" stroke-width="0.25">50%</text>
<text class="dv" x="937.7" y="927" font-size="24.4" text-anchor="middle" fill="#3a9ad9" stroke="#3a9ad9" stroke-width="0.25">40%</text>
<text class="dv" x="1016.6" y="927" font-size="24.4" text-anchor="middle" fill="#3a9ad9" stroke="#3a9ad9" stroke-width="0.25">40%</text>
<text class="dv" x="1095.5" y="927" font-size="24.4" text-anchor="middle" fill="#3a9ad9" stroke="#3a9ad9" stroke-width="0.25">35%</text>
</svg>
</body></html>
